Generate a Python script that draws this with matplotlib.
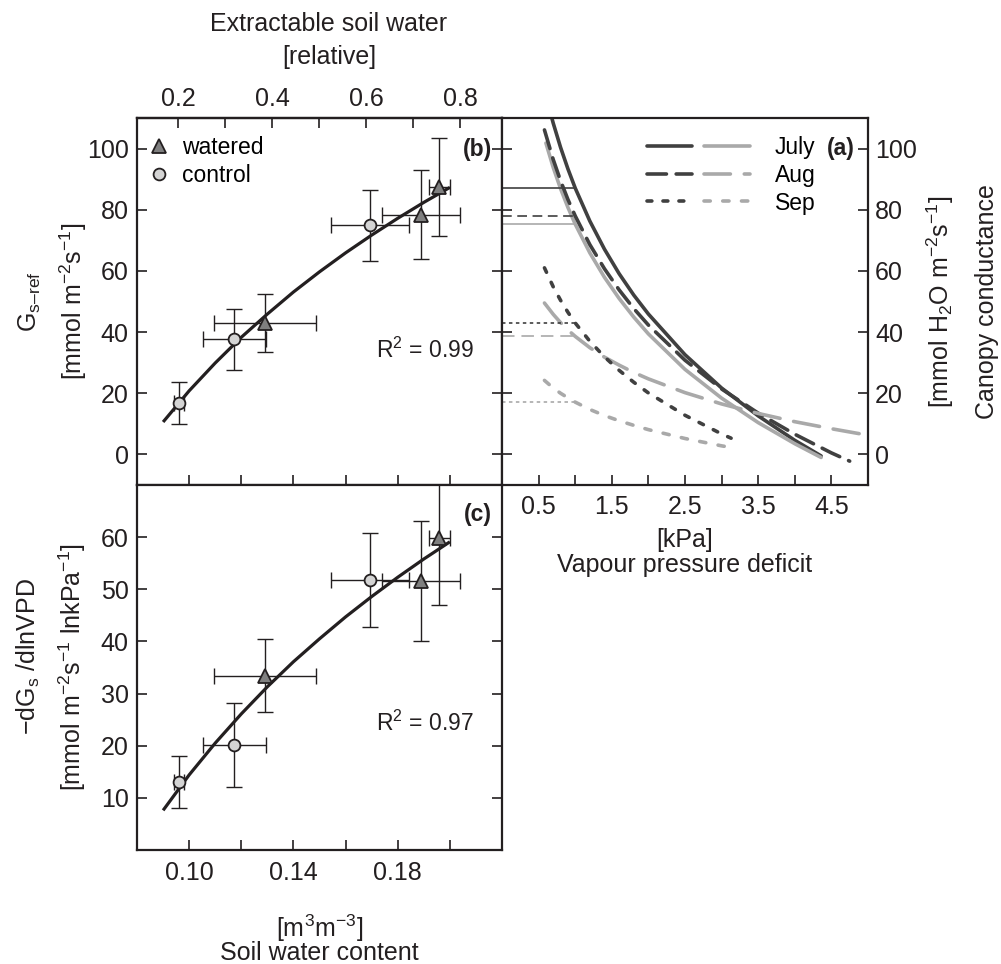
import matplotlib
matplotlib.use('Agg')
import matplotlib.pyplot as plt
from matplotlib.legend_handler import HandlerTuple
from matplotlib.ticker import MultipleLocator, FixedLocator, FormatStrFormatter

plt.rcParams['font.family'] = ['Liberation Sans', 'DejaVu Sans']
plt.rcParams['mathtext.fontset'] = 'custom'
plt.rcParams['mathtext.rm'] = 'Liberation Sans'
plt.rcParams['mathtext.it'] = 'Liberation Sans:italic'
plt.rcParams['mathtext.bf'] = 'Liberation Sans:bold'
plt.rcParams['mathtext.default'] = 'regular'
plt.rcParams['lines.scale_dashes'] = False

# --- data: soil water panels (b) and (c) ---
swc_ctrl = [0.096, 0.1173, 0.1693]
swc_ctrl_err = [0.002, 0.012, 0.015]
gref_ctrl = [16.8, 37.6, 74.9]
gref_ctrl_err = [6.8, 10.0, 11.5]
slope_ctrl = [13.0, 20.1, 51.8]
slope_ctrl_err = [5.0, 8.0, 9.0]

swc_wat = [0.129, 0.189, 0.196]
swc_wat_err = [0.0195, 0.015, 0.004]
gref_wat = [43.0, 78.4, 87.5]
gref_wat_err = [9.5, 14.5, 16.0]
slope_wat = [33.4, 51.5, 59.9]
slope_wat_err = [7.0, 11.5, 13.0]

# fitted curves
fit_swc = [0.09, 0.10, 0.11, 0.12, 0.13, 0.14, 0.15, 0.16, 0.17, 0.18, 0.19, 0.20]
fit_gref = [10.6, 20.8, 29.9, 38.3, 45.9, 53.1, 59.7, 65.9, 71.7, 77.2, 82.4, 87.3]
fit_slope = [7.6, 14.4, 20.5, 26.1, 31.3, 36.1, 40.5, 44.7, 48.6, 52.3, 55.8, 59.1]
r2_gref = 0.99
r2_slope = 0.97

# extractable soil water scale (relative) vs soil water content
swc_min = 0.0596
swc_range = 0.1805
rel_major = [0.2, 0.4, 0.6, 0.8]
rel_minor = [0.3, 0.5, 0.7]

# --- data: panel (a), canopy conductance vs VPD ---
vpd_jul_w = [0.65, 0.7, 0.8, 0.9, 1.0, 1.2, 1.4, 1.6, 1.8, 2.0, 2.5, 3.0, 3.5, 4.0, 4.36]
gs_jul_w = [112.7, 108.3, 100.4, 93.4, 87.1, 76.3, 67.1, 59.1, 52.1, 45.9, 32.6, 21.7, 12.6, 4.6, -0.5]
vpd_jul_c = [0.6, 0.7, 0.8, 0.9, 1.0, 1.2, 1.4, 1.6, 1.8, 2.0, 2.5, 3.0, 3.5, 4.0, 4.36]
gs_jul_c = [101.8, 93.8, 86.9, 80.8, 75.3, 65.9, 57.9, 51.0, 44.9, 39.4, 27.8, 18.4, 10.4, 3.5, -1.0]
vpd_aug_w = [0.58, 0.7, 0.8, 0.9, 1.0, 1.2, 1.4, 1.6, 1.8, 2.0, 2.5, 3.0, 3.5, 4.0, 4.5, 4.75]
gs_aug_w = [106.1, 96.4, 89.5, 83.4, 78.0, 68.6, 60.7, 53.8, 47.7, 42.3, 30.8, 21.4, 13.5, 6.6, 0.5, -2.2]
vpd_aug_c = [0.58, 0.7, 0.8, 0.9, 1.0, 1.2, 1.4, 1.6, 1.8, 2.0, 2.5, 3.0, 3.5, 4.0, 4.5, 4.9]
gs_aug_c = [49.5, 45.8, 43.1, 40.7, 38.6, 34.9, 31.8, 29.2, 26.8, 24.7, 20.2, 16.5, 13.4, 10.7, 8.4, 6.7]
vpd_sep_w = [0.58, 0.7, 0.8, 0.9, 1.0, 1.2, 1.4, 1.6, 1.8, 2.0, 2.5, 3.0, 3.13]
gs_sep_w = [61.0, 54.8, 50.4, 46.5, 43.0, 37.0, 31.9, 27.5, 23.6, 20.1, 12.8, 6.7, 5.3]
vpd_sep_c = [0.58, 0.7, 0.8, 0.9, 1.0, 1.2, 1.4, 1.6, 1.8, 2.0, 2.5, 3.0, 3.1]
gs_sep_c = [24.2, 21.7, 20.0, 18.5, 17.1, 14.7, 12.7, 11.0, 9.5, 8.1, 5.2, 2.8, 2.4]

# reference conductance at 1 kPa, drawn from 0 to 1 kPa
vpd_ref = [0.0, 1.0]
months = ['July', 'Aug', 'Sep']

ink = '#231f20'
dark = '#404040'
light = '#a9a9a9'
fs = 18
fs_small = 16.5

fig = plt.figure(figsize=(10.01, 9.64), dpi=100)
ax_b = fig.add_axes([0.1369, 0.4969, 0.3646, 0.3807])
ax_a = fig.add_axes([0.5015, 0.4969, 0.3656, 0.3807])
ax_c = fig.add_axes([0.1369, 0.1183, 0.3646, 0.3786])


def style(ax):
    for sp in ax.spines.values():
        sp.set_linewidth(1.6)
        sp.set_color(ink)
    ax.tick_params(which='both', direction='in', length=7, width=1.2,
                   labelsize=fs, colors=ink)


def draw_points(ax, y_ctrl, y_ctrl_err, y_wat, y_wat_err):
    ax.errorbar(swc_ctrl, y_ctrl, xerr=swc_ctrl_err, yerr=y_ctrl_err, fmt='none',
                ecolor=ink, elinewidth=1.0, capsize=6, capthick=1.0, zorder=2)
    ax.errorbar(swc_wat, y_wat, xerr=swc_wat_err, yerr=y_wat_err, fmt='none',
                ecolor=ink, elinewidth=1.0, capsize=6, capthick=1.0, zorder=2)
    hw, = ax.plot(swc_wat, y_wat, linestyle='none', marker='^', ms=10.5,
                  mfc='#7f7f7f', mec=ink, mew=1.3, zorder=4, label='watered')
    hc, = ax.plot(swc_ctrl, y_ctrl, linestyle='none', marker='o', ms=8.5,
                  mfc='#d4d4d4', mec=ink, mew=1.3, zorder=4, label='control')
    return hw, hc


# ---------- panel (b) ----------
style(ax_b)
ax_b.plot(fit_swc, fit_gref, color=ink, lw=2.3, zorder=3, solid_capstyle='butt')
hw, hc = draw_points(ax_b, gref_ctrl, gref_ctrl_err, gref_wat, gref_wat_err)
ax_b.set_xlim(0.08, 0.22)
ax_b.set_ylim(-10, 110)
ax_b.xaxis.set_major_locator(MultipleLocator(0.02))
ax_b.yaxis.set_major_locator(MultipleLocator(20))
ax_b.tick_params(axis='x', bottom=True, top=False, labelbottom=False)
ax_b.tick_params(axis='y', left=True, right=True, labelleft=True, pad=6)
ax_b.legend(handles=[hw, hc], loc='upper left', bbox_to_anchor=(0.03, 0.95),
            frameon=False, fontsize=fs_small, handlelength=1.0, handletextpad=0.5,
            labelspacing=0.2, borderpad=0, borderaxespad=0)
ax_b.text(0.973, 0.913, '(b)', transform=ax_b.transAxes, ha='right', va='center',
          fontsize=fs_small, fontweight='bold', color=ink)
ax_b.text(0.655, 0.368, 'R$^2$ = %.2f' % r2_gref, transform=ax_b.transAxes,
          ha='left', va='center', fontsize=fs_small, color=ink)
ax_b.text(-0.293, 0.5, 'G$_{s\u2013ref}$', transform=ax_b.transAxes, rotation=90,
          ha='center', va='center', fontsize=fs, color=ink)
ax_b.text(-0.175, 0.5, '[mmol m$^{-2}$s$^{-1}$]', transform=ax_b.transAxes, rotation=90,
          ha='center', va='center', fontsize=fs, color=ink)

sec = ax_b.secondary_xaxis('top', functions=(lambda s: (s - swc_min) / swc_range,
                                             lambda r: r * swc_range + swc_min))
sec.xaxis.set_major_locator(FixedLocator(rel_major))
sec.xaxis.set_minor_locator(FixedLocator(rel_minor))
sec.xaxis.set_major_formatter(FormatStrFormatter('%.1f'))
sec.tick_params(which='both', direction='in', length=7, width=1.2, pad=5,
                labelsize=fs, colors=ink)
sec.spines['top'].set_linewidth(1.6)
ax_b.text(0.526, 1.256, 'Extractable soil water', transform=ax_b.transAxes,
          ha='center', va='center', fontsize=fs, color=ink)
ax_b.text(0.526, 1.165, '[relative]', transform=ax_b.transAxes,
          ha='center', va='center', fontsize=fs, color=ink)

# ---------- panel (c) ----------
style(ax_c)
ax_c.plot(fit_swc, fit_slope, color=ink, lw=2.3, zorder=3, solid_capstyle='butt')
draw_points(ax_c, slope_ctrl, slope_ctrl_err, slope_wat, slope_wat_err)
ax_c.set_xlim(0.08, 0.22)
ax_c.set_ylim(0, 70)
ax_c.xaxis.set_major_locator(FixedLocator([0.10, 0.14, 0.18]))
ax_c.xaxis.set_minor_locator(FixedLocator([0.12, 0.16, 0.20]))
ax_c.xaxis.set_major_formatter(FormatStrFormatter('%.2f'))
ax_c.yaxis.set_major_locator(FixedLocator([10, 20, 30, 40, 50, 60]))
ax_c.tick_params(axis='x', which='both', bottom=True, top=False, pad=8)
ax_c.tick_params(axis='y', left=True, right=True, pad=6)
ax_c.text(0.973, 0.918, '(c)', transform=ax_c.transAxes, ha='right', va='center',
          fontsize=fs_small, fontweight='bold', color=ink)
ax_c.text(0.655, 0.348, 'R$^2$ = %.2f' % r2_slope, transform=ax_c.transAxes,
          ha='left', va='center', fontsize=fs_small, color=ink)
ax_c.text(-0.299, 0.53, '\u2212dG$_s$ /dlnVPD', transform=ax_c.transAxes, rotation=90,
          ha='center', va='center', fontsize=fs, color=ink)
ax_c.text(-0.178, 0.5, '[mmol m$^{-2}$s$^{-1}$ lnkPa$^{-1}$]', transform=ax_c.transAxes,
          rotation=90, ha='center', va='center', fontsize=fs, color=ink)
ax_c.text(0.5, -0.214, '[m$^3$m$^{-3}$]', transform=ax_c.transAxes,
          ha='center', va='center', fontsize=fs, color=ink)
ax_c.text(0.5, -0.282, 'Soil water content', transform=ax_c.transAxes,
          ha='center', va='center', fontsize=fs, color=ink)

# ---------- panel (a) ----------
style(ax_a)
lw_curve = 2.6
l1, = ax_a.plot(vpd_jul_w, gs_jul_w, color=dark, lw=lw_curve, solid_capstyle='round')
l2, = ax_a.plot(vpd_jul_c, gs_jul_c, color=light, lw=lw_curve, solid_capstyle='round')
l3, = ax_a.plot(vpd_aug_w, gs_aug_w, color=dark, lw=lw_curve, dashes=(14, 7),
                dash_capstyle='round')
l4, = ax_a.plot(vpd_aug_c, gs_aug_c, color=light, lw=lw_curve, dashes=(19, 10),
                dash_capstyle='round')
l5, = ax_a.plot(vpd_sep_w, gs_sep_w, color=dark, lw=lw_curve, dashes=(3.5, 8),
                dash_capstyle='round')
l6, = ax_a.plot(vpd_sep_c, gs_sep_c, color=light, lw=lw_curve, dashes=(4.5, 9),
                dash_capstyle='round')

# thin reference lines at 1 kPa
ref_styles = [(dark, None), (light, None), (dark, (7, 4)), (light, (9, 5)),
              (dark, (2.5, 2.5)), (light, (2.5, 2.5))]
ref_sets = [(vpd_jul_w, gs_jul_w), (vpd_jul_c, gs_jul_c), (vpd_aug_w, gs_aug_w),
            (vpd_aug_c, gs_aug_c), (vpd_sep_w, gs_sep_w), (vpd_sep_c, gs_sep_c)]
for (vpd, gs), (col, dsh) in zip(ref_sets, ref_styles):
    level = gs[vpd.index(vpd_ref[1])]
    if dsh is None:
        ax_a.plot(vpd_ref, [level, level], color=col, lw=1.2)
    else:
        ax_a.plot(vpd_ref, [level, level], color=col, lw=1.2, dashes=dsh)

ax_a.set_xlim(0, 5)
ax_a.set_ylim(-10, 110)
ax_a.xaxis.set_major_locator(FixedLocator([0.5, 1.5, 2.5, 3.5, 4.5]))
ax_a.xaxis.set_minor_locator(FixedLocator([1.0, 2.0, 3.0, 4.0]))
ax_a.xaxis.set_major_formatter(FormatStrFormatter('%.1f'))
ax_a.yaxis.set_major_locator(MultipleLocator(20))
ax_a.tick_params(axis='x', which='both', bottom=True, top=False, pad=7)
ax_a.tick_params(axis='y', left=True, right=True, labelleft=False, labelright=True, pad=5)
ax_a.legend(handles=[(l1, l2), (l3, l4), (l5, l6)], labels=months,
            handler_map={tuple: HandlerTuple(ndivide=None, pad=0.55)},
            loc='upper left', bbox_to_anchor=(0.395, 0.95), frameon=False,
            fontsize=fs_small, handlelength=4.5, handletextpad=1.1,
            labelspacing=0.2, borderpad=0, borderaxespad=0)
ax_a.text(0.964, 0.918, '(a)', transform=ax_a.transAxes, ha='right', va='center',
          fontsize=fs_small, fontweight='bold', color=ink)
ax_a.text(0.5, -0.150, '[kPa]', transform=ax_a.transAxes,
          ha='center', va='center', fontsize=fs, color=ink)
ax_a.text(0.5, -0.218, 'Vapour pressure deficit', transform=ax_a.transAxes,
          ha='center', va='center', fontsize=fs, color=ink)
ax_a.text(1.197, 0.5, '[mmol H$_2$O m$^{-2}$s$^{-1}$]', transform=ax_a.transAxes,
          rotation=90, ha='center', va='center', fontsize=fs, color=ink)
ax_a.text(1.325, 0.5, 'Canopy conductance', transform=ax_a.transAxes,
          rotation=90, ha='center', va='center', fontsize=fs, color=ink)

plt.savefig('out.png', dpi=100)
